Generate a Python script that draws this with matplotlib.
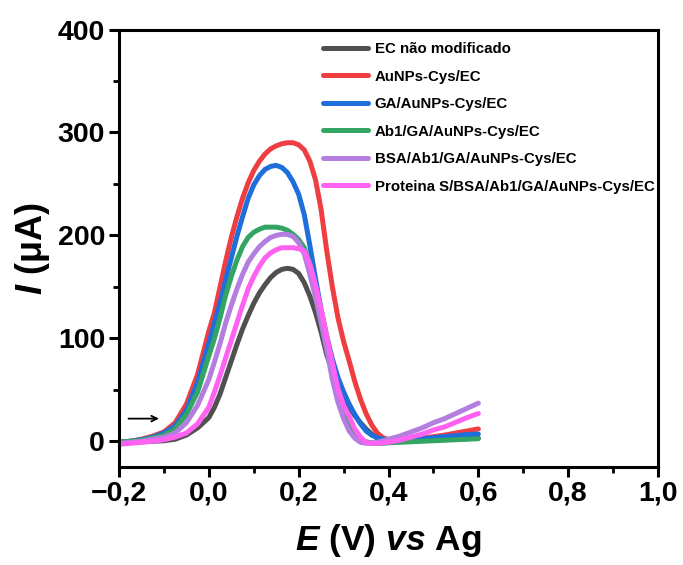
import matplotlib
matplotlib.use("Agg")
import matplotlib.pyplot as plt
from matplotlib.ticker import MultipleLocator, FuncFormatter

plt.rcParams['font.family'] = ['Liberation Sans', 'DejaVu Sans']
plt.rcParams['mathtext.fontset'] = 'custom'
plt.rcParams['mathtext.it'] = 'Liberation Sans:italic:bold'
plt.rcParams['mathtext.rm'] = 'Liberation Sans:bold'
plt.rcParams['mathtext.bf'] = 'Liberation Sans:bold'

potential = [-0.2, -0.175, -0.15, -0.125, -0.1, -0.075, -0.05, -0.025, 0.0,
             0.0125, 0.025, 0.0375, 0.05, 0.0625, 0.075, 0.0875, 0.1,
             0.1125, 0.125, 0.1375, 0.15, 0.1625, 0.175, 0.1875, 0.2,
             0.2125, 0.225, 0.2375, 0.25, 0.2625, 0.275, 0.2875, 0.3,
             0.3125, 0.325, 0.3375, 0.35, 0.3625, 0.375, 0.3875, 0.4,
             0.425, 0.45, 0.475, 0.5, 0.525, 0.55, 0.575, 0.6]

ec_bare = [-1, -1, -0.5, 0, 0.5, 2, 6, 13, 23,
           33, 46, 62, 78, 94, 109, 122, 134, 144, 152, 159, 164, 167, 168, 167, 163,
           154, 141, 125, 106, 84, 68, 53, 42, 33, 25, 18, 12, 7, 3, 1.5, 1,
           1, 1, 1.2, 1.5, 1.8, 2, 2.5, 3]
aunps = [-1, 0, 2, 5, 9, 18, 36, 65, 107,
         125, 150, 175, 198, 218, 236, 251, 263, 272, 279, 284, 287, 289, 290, 290, 288,
         283, 272, 254, 225, 185, 150, 120, 97, 78, 58, 41, 27, 16, 8, 3.5, 1.5,
         1, 2, 3, 4.5, 6, 8, 10, 12]
ga = [-1, 0, 1.5, 4, 8, 15, 30, 57, 95,
      115, 134, 157, 178, 199, 218, 236, 249, 258, 264, 267, 268, 266, 261, 252, 240,
      220, 190, 158, 128, 102, 80, 62, 48, 36, 26, 17, 10, 6, 3.5, 2, 1.5,
      1.5, 2, 2.5, 3.5, 4.5, 5.5, 6.5, 7]
ab1 = [-1, 0, 1, 3, 6, 12, 26, 48, 83,
       100, 120, 142, 160, 176, 189, 198, 203, 206, 208, 208, 208, 207, 205, 201, 196,
       188, 172, 148, 122, 96, 70, 48, 30, 17, 8, 2, -0.5, -1.5, -2, -2, -1.5,
       -1, -0.5, 0, 0.5, 1, 1.5, 2, 2.5]
bsa = [-2, -1, 0, 2, 4, 8, 18, 35, 60,
       77, 95, 115, 132, 148, 162, 174, 182, 189, 194, 198, 200, 201, 201, 199, 193,
       182, 162, 140, 115, 89, 60, 38, 22, 10, 3, -1, -2, -2, -1, 0.5, 2,
       5, 9, 13, 18, 22, 27, 32, 37]
protS = [-3, -2, -1, 0, 1.5, 4, 8, 17, 33,
         48, 64, 81, 98, 115, 132, 148, 160, 170, 178, 183, 186, 188, 188, 188, 187,
         185, 172, 152, 128, 102, 76, 51, 35, 24, 12, 4, -1, -2, -2, -1.5, -1,
         1, 4, 7, 11, 14, 18.5, 23, 27]

labels = ["EC não modificado", "AuNPs-Cys/EC", "GA/AuNPs-Cys/EC",
          "Ab1/GA/AuNPs-Cys/EC", "BSA/Ab1/GA/AuNPs-Cys/EC",
          "Proteina S/BSA/Ab1/GA/AuNPs-Cys/EC"]
colors = ["#505050", "#ef3e42", "#1e6fdc", "#33a563", "#b47de0", "#ff62f2"]
series = [ec_bare, aunps, ga, ab1, bsa, protS]

fig = plt.figure(figsize=(6.83, 5.65), dpi=100)
ax = fig.add_axes([119/683, 1 - 467/565, (658-119)/683, (467-29.5)/565])

for ys, c, lab in zip(series, colors, labels):
    ax.plot(potential, ys, color=c, lw=3.6, label=lab,
            solid_capstyle='round', solid_joinstyle='round')

ax.set_xlim(-0.2, 1.0)
ax.set_ylim(-25, 400)
ax.xaxis.set_major_locator(MultipleLocator(0.2))
ax.xaxis.set_minor_locator(MultipleLocator(0.1))
ax.yaxis.set_major_locator(MultipleLocator(100))
ax.yaxis.set_minor_locator(MultipleLocator(50))

def fmt(v, pos):
    s = f"{v:.1f}".replace('.', ',')
    if s.startswith('-'):
        s = '\u2212' + s[1:]
    if s == '\u22120,0':
        s = '0,0'
    return s
ax.xaxis.set_major_formatter(FuncFormatter(fmt))

for sp in ax.spines.values():
    sp.set_linewidth(2.2)
ax.tick_params(which='major', direction='out', length=7, width=2.2, labelsize=20.5, pad=3)
ax.tick_params(which='minor', direction='out', length=4, width=2.0)
ax.tick_params(top=False, right=False)
for t in ax.get_xticklabels() + ax.get_yticklabels():
    t.set_fontweight('bold')

ax.set_xlabel(r'$E$ (V) $vs$ Ag', fontsize=25.5, fontweight='bold', labelpad=11)
ax.set_ylabel(r'$I$ (μA)', fontsize=26, fontweight='bold', labelpad=4)

ax.annotate('', xy=(-0.105, 22), xytext=(-0.185, 22),
            arrowprops=dict(arrowstyle='->', color='black', lw=1.3))

leg = ax.legend(loc='upper left', bbox_to_anchor=((323-119)/539, 0.971), frameon=False,
                prop={'weight': 'bold', 'size': 10.8}, handlelength=3.0,
                handletextpad=0.45, labelspacing=0.9, borderpad=0, borderaxespad=0)

fig.savefig('out.png', dpi=100)
